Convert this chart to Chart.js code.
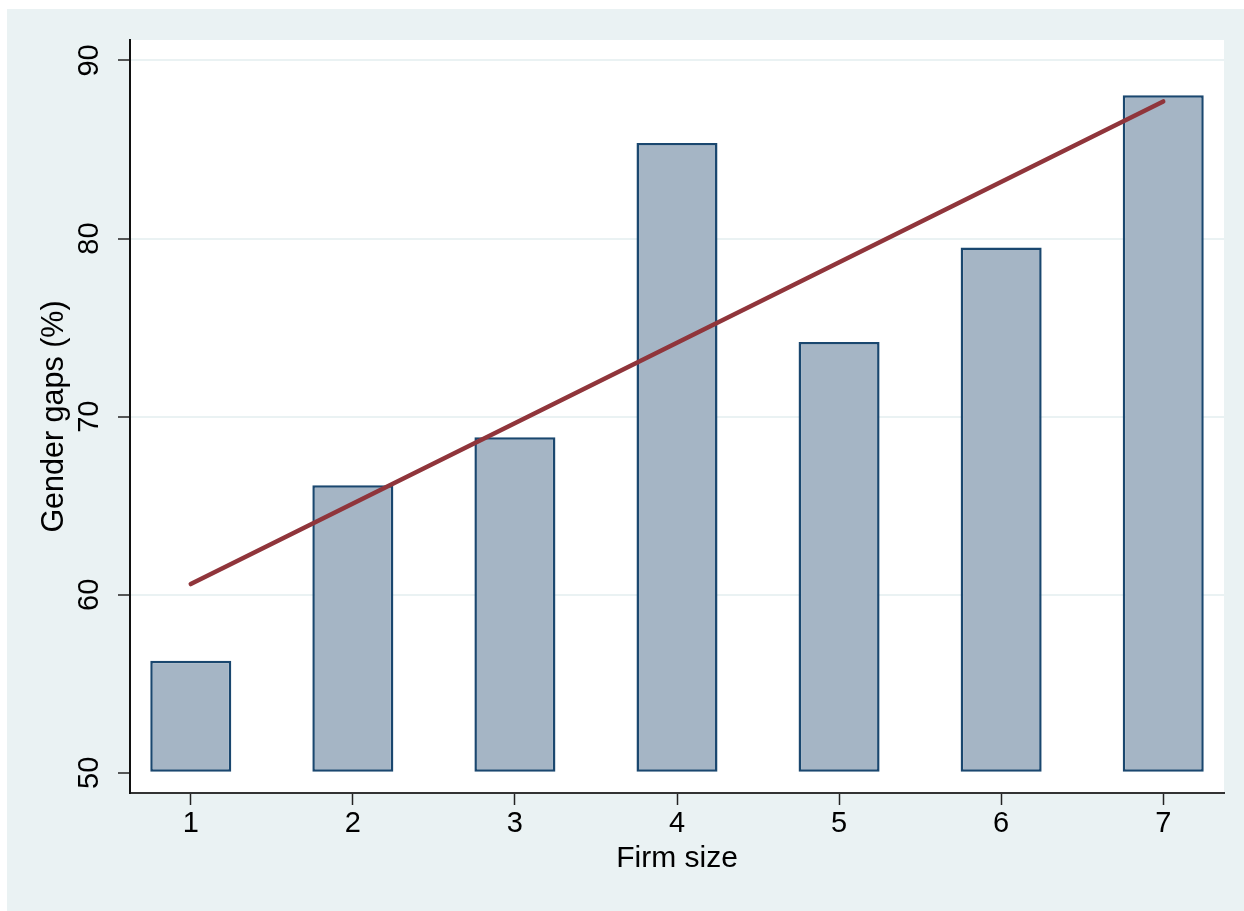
<!DOCTYPE html>
<html lang="en">
<head>
  <meta charset="UTF-8" />
  <title>Gender gaps by firm size</title>
  <script src="https://cdn.jsdelivr.net/npm/chart.js"></script>
  <style>
    body {
      margin: 0;
      background: #ffffff;
    }
    #wrap {
      width: 1244px;
      height: 911px;
    }
  </style>
</head>
<body>
  <div id="wrap">
    <canvas id="grafico" width="1244" height="911"></canvas>
  </div>

  <script>
    // data
    const firmSize = [1, 2, 3, 4, 5, 6, 7];
    const genderGap = [56.3, 66.15, 68.85, 85.37, 74.2, 79.5, 88.05];
    const fitX = [1, 7];
    const fitY = [60.6, 87.7];
    const xTicks = [1, 2, 3, 4, 5, 6, 7];
    const yTicks = [50, 60, 70, 80, 90];
    const barBase = 50;

    const azulClaro = '#eaf2f3';
    const fuente = "'Liberation Sans', Arial, sans-serif";

    // light blue graph region + white plot region
    const fondo = {
      id: 'fondo',
      beforeDraw(chart) {
        const ctx = chart.ctx;
        const a = chart.chartArea;
        ctx.save();
        ctx.fillStyle = '#ffffff';
        ctx.fillRect(0, 0, chart.width, chart.height);
        ctx.fillStyle = azulClaro;
        ctx.fillRect(7, 9, chart.width - 7, chart.height - 9);
        ctx.fillStyle = '#ffffff';
        ctx.fillRect(a.left, a.top, a.right - a.left, a.bottom - a.top);
        ctx.restore();
      }
    };

    new Chart(document.getElementById('grafico'), {
      type: 'bar',
      data: {
        datasets: [
          {
            type: 'line',
            data: fitX.map((x, i) => ({ x: x, y: fitY[i] })),
            borderColor: '#90353b',
            borderWidth: 4.5,
            borderCapStyle: 'round',
            pointRadius: 0,
            fill: false,
            order: 0
          },
          {
            type: 'bar',
            data: firmSize.map((x, i) => ({ x: x, y: genderGap[i] })),
            base: barBase,
            backgroundColor: '#a5b5c5',
            borderColor: '#1a476f',
            borderWidth: 2.5,
            borderSkipped: false,
            barPercentage: 0.5,
            categoryPercentage: 1,
            order: 1
          }
        ]
      },
      options: {
        responsive: false,
        animation: false,
        layout: { padding: { left: 0, top: 40, right: 20, bottom: 0 } },
        plugins: {
          legend: { display: false },
          tooltip: { enabled: false }
        },
        scales: {
          x: {
            type: 'linear',
            offset: false,
            min: 0.625,
            max: 7.375,
            afterBuildTicks: s => { s.ticks = xTicks.map(v => ({ value: v })); },
            afterFit: s => { s.height = 118; },
            grid: {
              offset: false,
              drawOnChartArea: false,
              tickLength: 12,
              tickColor: '#222',
              tickWidth: 1.5
            },
            border: { color: '#333', width: 2 },
            ticks: {
              color: '#000',
              padding: 2,
              font: { family: fuente, size: 29 },
              maxRotation: 0
            },
            title: {
              display: true,
              text: 'Firm size',
              color: '#000',
              font: { family: fuente, size: 30 },
              padding: { top: 0, bottom: 34 }
            }
          },
          y: {
            min: 48.87,
            max: 91.15,
            afterBuildTicks: s => { s.ticks = yTicks.map(v => ({ value: v })); },
            afterFit: s => { s.width = 130; },
            grid: {
              color: ctx => (ctx.tick && ctx.tick.value === barBase) ? 'rgba(0,0,0,0)' : azulClaro,
              lineWidth: 2,
              tickLength: 12,
              tickColor: '#222',
              tickWidth: 1.5
            },
            border: { color: '#111', width: 2 },
            ticks: {
              color: '#000',
              minRotation: 90,
              maxRotation: 90,
              crossAlign: 'center',
              padding: 12,
              font: { family: fuente, size: 29 }
            },
            title: {
              display: true,
              text: 'Gender gaps (%)',
              color: '#000',
              font: { family: fuente, size: 30.5 },
              padding: { top: 36, bottom: 0 }
            }
          }
        }
      },
      plugins: [fondo]
    });
  </script>
</body>
</html>
